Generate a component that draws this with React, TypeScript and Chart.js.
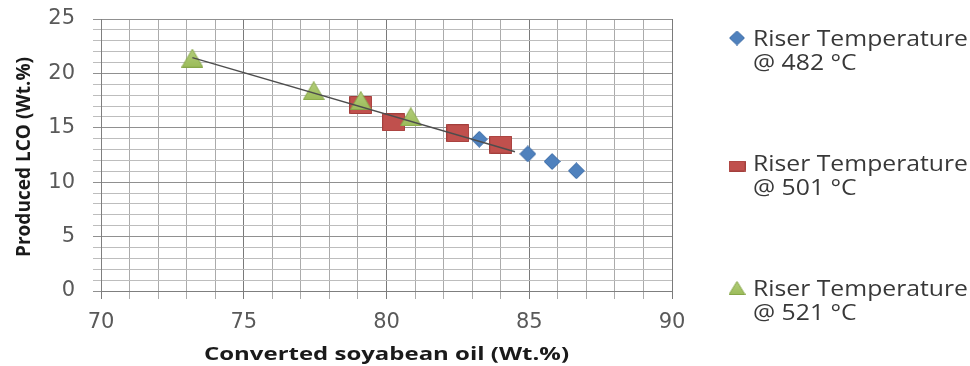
import React, { useEffect, useRef } from 'react';
import { Chart, registerables } from 'chart.js';
Chart.register(...registerables);

// ---- data ----
const xMin = 70;
const xMax = 90;
const yMin = 0;
const yMax = 25;
const xTickLabels = [70, 75, 80, 85, 90];
const yTickLabels = [0, 5, 10, 15, 20, 25];

const series482X = [83.25, 84.95, 85.8, 86.65];
const series482Y = [13.95, 12.6, 11.9, 11.05];
const series501X = [79.1, 80.25, 82.5, 84.0];
const series501Y = [17.1, 15.5, 14.5, 13.45];
const series521X = [73.2, 77.45, 79.1, 80.85];
const series521Y = [21.4, 18.4, 17.5, 16.0];
const trendX = [73.2, 84.5];
const trendY = [21.45, 12.8];

const legendLine1 = ['Riser Temperature', 'Riser Temperature', 'Riser Temperature'];
const legendLine2 = ['@ 482 °C', '@ 501 °C', '@ 521 °C'];
const xTitle = 'Converted soyabean oil (Wt.%)';
const yTitle = 'Produced LCO (Wt.%)';

// ---- styles ----
const BLUE = '#4F81BD';
const BLUE_D = '#3d6ca6';
const RED = '#C0504D';
const RED_D = '#a33f3c';
const GREEN = '#9BBB59';
const GREEN_D = '#86a648';

function makeMarker(shape: string, w: number, h: number, fill: string, stroke: string): HTMLCanvasElement {
  const c = document.createElement('canvas');
  c.width = w;
  c.height = h;
  const g = c.getContext('2d')!;
  let fs: any = fill;
  if (shape === 'triangle') {
    const grad = g.createLinearGradient(0, 0, 0, h);
    grad.addColorStop(0, '#b4cf7c');
    grad.addColorStop(1, fill);
    fs = grad;
  }
  g.fillStyle = fs;
  g.strokeStyle = stroke;
  g.lineWidth = 1;
  g.beginPath();
  if (shape === 'diamond') {
    g.moveTo(w / 2, 0.5);
    g.lineTo(w - 0.5, h / 2);
    g.lineTo(w / 2, h - 0.5);
    g.lineTo(0.5, h / 2);
    g.closePath();
  } else if (shape === 'square') {
    g.rect(0.5, 0.5, w - 1, h - 1);
  } else {
    g.moveTo(w / 2, 0.5);
    g.lineTo(w - 0.5, h - 0.5);
    g.lineTo(0.5, h - 0.5);
    g.closePath();
  }
  g.fill();
  g.stroke();
  return c;
}

function pts(xs: number[], ys: number[]) {
  return xs.map((x, i) => ({ x, y: ys[i] }));
}

const overlayPlugin = {
  id: 'overlay',
  afterDraw(chart: any) {
    const ctx: CanvasRenderingContext2D = chart.ctx;
    const area = chart.chartArea;
    ctx.save();
    // X title
    ctx.font = 'bold 18px "Open Sans"';
    ctx.fillStyle = '#1a1a1a';
    ctx.textAlign = 'center';
    ctx.textBaseline = 'alphabetic';
    const xw = ctx.measureText(xTitle).width;
    ctx.save();
    ctx.translate((area.left + area.right) / 2, 360);
    ctx.scale(365 / xw, 1);
    ctx.fillText(xTitle, 0, 0);
    ctx.restore();
    // Y title
    ctx.font = 'bold 17px "Open Sans"';
    const yw = ctx.measureText(yTitle).width;
    ctx.save();
    ctx.translate(30, (area.top + area.bottom) / 2 + 2);
    ctx.rotate(-Math.PI / 2);
    ctx.scale(200 / yw, 1.2);
    ctx.fillText(yTitle, 0, 0);
    ctx.restore();
    // Legend
    const markers = [
      makeMarker('diamond', 16, 15, BLUE, BLUE_D),
      makeMarker('square', 17, 11, RED, RED_D),
      makeMarker('triangle', 17, 14, GREEN, GREEN_D),
    ];
    const base = [46, 171, 296];
    const markerY = [38, 166, 288];
    ctx.font = '21px "Open Sans"';
    ctx.fillStyle = '#383838';
    ctx.textAlign = 'left';
    const lw = ctx.measureText(legendLine1[0]).width;
    const sx = 215 / lw;
    for (let i = 0; i < 3; i++) {
      const m = markers[i];
      ctx.drawImage(m, 737 - m.width / 2, markerY[i] - m.height / 2);
      ctx.save();
      ctx.translate(753, base[i]);
      ctx.scale(sx, 1);
      ctx.fillText(legendLine1[i], 0, 0);
      ctx.fillText(legendLine2[i], 0, 24);
      ctx.restore();
    }
    ctx.restore();
  },
};

export default function App() {
  const ref = useRef<HTMLCanvasElement>(null);
  useEffect(() => {
    const canvas = ref.current!;
    const chart = new Chart(canvas, {
      type: 'scatter',
      data: {
        datasets: [
          {
            label: 'trend',
            data: pts(trendX, trendY),
            showLine: true,
            borderColor: '#4d4d4d',
            borderWidth: 1.5,
            pointRadius: 0,
            order: 0,
          } as any,
          {
            label: legendLine1[2] + ' ' + legendLine2[2],
            data: pts(series521X, series521Y),
            pointStyle: makeMarker('triangle', 22, 19, GREEN, GREEN_D),
            order: 1,
          } as any,
          {
            label: legendLine1[1] + ' ' + legendLine2[1],
            data: pts(series501X, series501Y),
            pointStyle: makeMarker('square', 23, 18, RED, RED_D),
            order: 2,
          } as any,
          {
            label: legendLine1[0] + ' ' + legendLine2[0],
            data: pts(series482X, series482Y),
            pointStyle: makeMarker('diamond', 17, 17, BLUE, BLUE_D),
            order: 3,
          } as any,
        ],
      },
      options: {
        responsive: false,
        animation: false,
        layout: { padding: { left: 0, right: 298, top: 19, bottom: 0 } },
        plugins: { legend: { display: false }, tooltip: { enabled: false } },
        scales: {
          x: {
            type: 'linear',
            min: xMin,
            max: xMax,
            afterFit: (s: any) => {
              s.height = 75;
              s.paddingLeft = 0;
              s.paddingRight = 0;
            },
            ticks: {
              stepSize: 1,
              autoSkip: false,
              maxRotation: 0,
              minRotation: 0,
              padding: 11,
              color: '#595959',
              font: { family: '"DejaVu Sans"', size: 21 },
              callback: (v: any) => (xTickLabels.includes(Number(v)) ? String(v) : ''),
            },
            grid: {
              color: (c: any) => (c.tick && Number(c.tick.value) % 5 === 0 ? '#7a7a7a' : '#ababab'),
              lineWidth: 1,
              tickLength: 8,
              drawTicks: true,
            },
            border: { display: true, color: '#7f7f7f' },
          },
          y: {
            type: 'linear',
            min: yMin,
            max: yMax,
            afterFit: (s: any) => {
              s.width = 101;
              s.paddingTop = 0;
              s.paddingBottom = 0;
            },
            ticks: {
              stepSize: 1,
              autoSkip: false,
              padding: 18,
              color: '#595959',
              font: { family: '"DejaVu Sans"', size: 21 },
              callback: (v: any) => (yTickLabels.includes(Number(v)) ? String(v) : ''),
            },
            grid: {
              color: (c: any) => (c.tick && Number(c.tick.value) % 5 === 0 ? '#909090' : '#bdbdbd'),
              lineWidth: 1,
              tickLength: 8,
              drawTicks: true,
            },
            border: { display: true, color: '#7f7f7f' },
          },
        },
      } as any,
      plugins: [overlayPlugin],
    });
    return () => chart.destroy();
  }, []);
  return (
    <div style={{ position: 'absolute', left: 0, top: 0, width: 970, height: 366, background: '#fff' }}>
      <canvas ref={ref} width={970} height={366} style={{ display: 'block' }} />
    </div>
  );
}
